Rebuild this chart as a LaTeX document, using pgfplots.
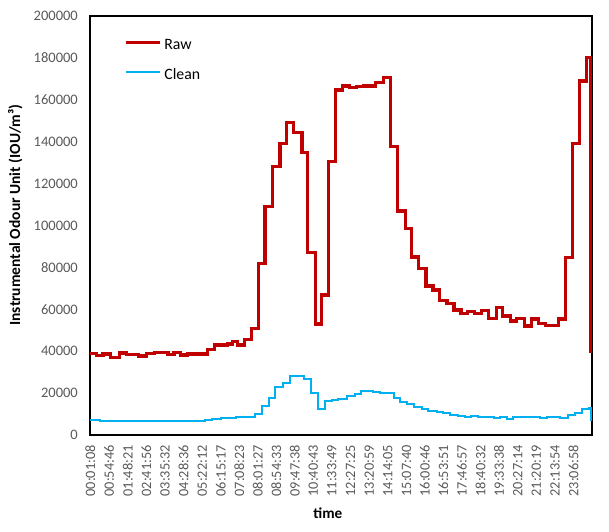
\documentclass[border=0pt]{standalone}
\usepackage{fontspec}
\setmainfont{Carlito}
\usepackage{pgfplots}
\pgfplotsset{compat=1.18}
\definecolor{rawred}{HTML}{C00000}
\definecolor{cleanblue}{HTML}{00B0F0}
\definecolor{tickgray}{HTML}{595959}
\begin{document}
\begin{tikzpicture}
\path[use as bounding box] (0,0) rectangle (609bp,532bp);
\begin{axis}[
  at={(90bp,97bp)}, anchor=south west,
  scale only axis, width=502bp, height=419bp,
  xmin=0, xmax=72, ymin=0, ymax=200000,
  axis line style={black, line width=1.3bp},
  major tick length=0pt,
  xtick={0.0567,2.7383,5.4175,8.0967,10.7767,13.43,16.11,18.7642,21.4192,24.0725,26.7275,29.3817,32.0358,34.6908,37.3708,40.0492,42.7042,45.3833,48.0383,50.6925,53.3475,56.0267,58.6817,61.3617,64.0158,66.695,69.3483},
  xticklabels={00:01:08,00:54:46,01:48:21,02:41:56,03:35:32,04:28:36,05:22:12,06:15:17,07:08:23,08:01:27,08:54:33,09:47:38,10:40:43,11:33:49,12:27:25,13:20:59,14:14:05,15:07:40,16:00:46,16:53:51,17:46:57,18:40:32,19:33:38,20:27:14,21:20:19,22:13:54,23:06:58},
  ytick={0,20000,...,200000},
  scaled y ticks=false,
  yticklabel style={/pgf/number format/fixed, /pgf/number format/1000 sep={}, /pgf/number format/assume math mode=true,
    font=\fontsize{14.5bp}{17bp}\selectfont, text=tickgray, anchor=east, inner sep=0pt},
  yticklabel shift=12bp,
  xticklabel style={font=\fontsize{14.3bp}{17bp}\selectfont, text=tickgray, rotate=90, anchor=east, inner sep=0pt},
  xticklabel shift=10bp,
  xlabel={time},
  ylabel={Instrumental Odour Unit (IOU/m³)},
  xlabel style={font=\fontsize{15.2bp}{17bp}\selectfont\bfseries, at={(axis description cs:0.474,-0.186)}, anchor=center},
  ylabel style={font=\fontsize{15.5bp}{17bp}\selectfont\bfseries, at={(axis description cs:-0.149,0.525)}, anchor=center},
  legend style={draw=none, fill=none, at={(axis description cs:0.0677,0.947)}, anchor=north west,
    font=\fontsize{15.8bp}{19bp}\selectfont, inner sep=0pt, row sep=15bp, column sep=3bp,
    nodes={inner sep=0pt, text height=11bp, text depth=4bp}},
  legend cell align=left,
  legend image code/.code={\draw[#1, line cap=butt] (0bp,3.5bp) -- (34bp,3.5bp);},
]
\addplot[const plot, rawred, line width=3.2bp] coordinates {
(0,39000) (0.9,38000) (1.87,38700) (2.97,37100) (4.26,39100) (5.2,38500) (6.9,37700) (8.1,39000) (9.3,39300) (11.2,38500) (12.06,39400) (13.0,38200) (14.0,38700) (16.8,41000) (17.9,43000) (19.7,43400) (20.4,44500) (21.2,43000) (22.2,45700) (23.2,50900) (24.15,82000) (25.1,109000) (26.2,128000) (27.26,139000) (28.2,149000) (29.17,144500) (30.4,135000) (31.2,87200) (32.3,53000) (33.2,66800) (34.2,130500) (35.25,164700) (36.25,166600) (37.2,166000) (38.26,166200) (39.2,166600) (41.0,168200) (42.1,170600) (43.1,137600) (44.1,106900) (45.2,98500) (46.15,85000) (47.1,79400) (48.2,71100) (49.2,69200) (50.1,64100) (51.2,62900) (52.2,59700) (53.2,58100) (54.2,58900) (55.2,58100) (56.2,59300) (57.2,55700) (58.25,61000) (59.15,56800) (60.26,54400) (61.2,55700) (62.27,52000) (63.3,55400) (64.3,53300) (65.3,52200) (67.2,55400) (68.25,84600) (69.25,139200) (70.2,169000) (71.2,180000) (71.75,39000)
};
\addlegendentry{Raw}
\addplot[const plot, cleanblue, line width=2bp] coordinates {
(0,7100) (1.5,6700) (9.3,6900) (16.5,7200) (17.5,7500) (18.8,7900) (19.8,8300) (21,8400) (22.2,8700) (23.6,10000) (24.6,14000) (25.7,17500) (26.6,22800) (27.7,25000) (28.7,28200) (30.7,26600) (31.7,19900) (32.7,12300) (33.7,16200) (34.7,16600) (35.6,17000) (36.8,18600) (38.0,19400) (38.8,21000) (40.65,20400) (41.6,19900) (42.8,20100) (43.6,17500) (44.5,15900) (45.4,14800) (46.5,13200) (47.6,12300) (48.5,11500) (49.7,10800) (50.7,10400) (51.6,9700) (52.8,9200) (53.8,8600) (54.7,9100) (55.7,8800) (56.9,8400) (57.9,8300) (58.8,8600) (59.8,7800) (60.7,8600) (61.9,8400) (62.9,8600) (64.6,7900) (65.5,8400) (67.4,7900) (68.6,9500) (69.6,10600) (70.5,12300) (71.5,13000) (71.85,6700)
};
\addlegendentry{Clean}
\end{axis}
\end{tikzpicture}
\end{document}
